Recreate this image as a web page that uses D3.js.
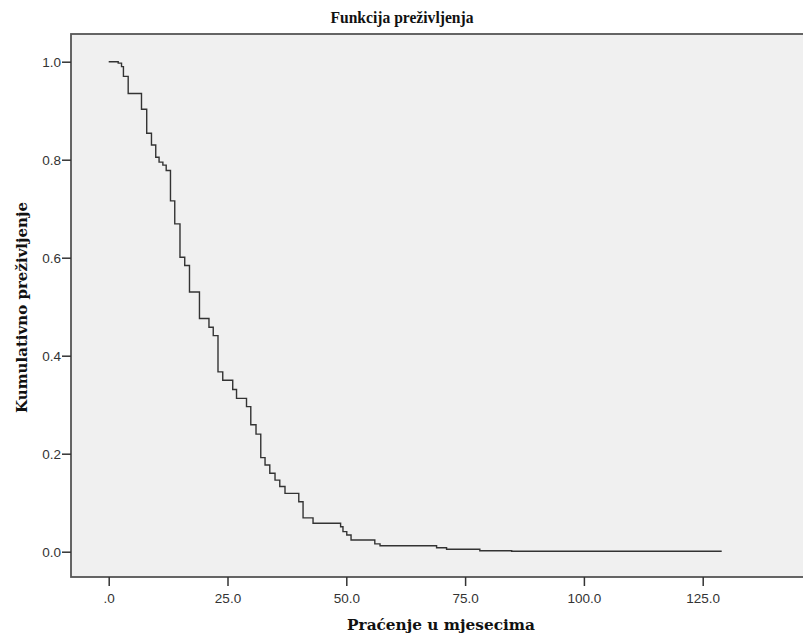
<!DOCTYPE html>
<html>
<head>
<meta charset="utf-8">
<script src="https://cdn.jsdelivr.net/npm/d3@7"></script>
<style>
  body { margin: 0; background: #fff; }
  .tick text { font-family: "Liberation Sans", Arial, sans-serif; font-size: 13.5px; fill: #333; }
  .tick line { stroke: #333; stroke-width: 1.5; }
  .lbl { font-family: "DejaVu Serif", serif; font-weight: bold; fill: #111; }
  .ttl { font-family: "Liberation Serif", "Times New Roman", serif; font-weight: bold; fill: #111; }
</style>
</head>
<body>
<div id="chart"></div>
<script>
// Kaplan-Meier steps (time in months, cumulative survival)
var times    = [0, 2.0, 2.7, 3.1, 4.1, 6.9, 8.0, 9.0, 9.9, 10.6, 11.4, 12.1, 13.0, 13.9, 15.0, 16.0, 17.0,
                19.1, 21.1, 22.0, 23.0, 24.0, 26.1, 26.9, 29.0, 29.9, 31.0, 32.0, 32.9, 33.9, 35.0, 36.0,
                37.1, 40.0, 40.9, 43.0, 48.8, 49.3, 50.1, 51.0, 56.0, 57.1, 69.0, 71.1, 78.1, 84.8, 129];
var survival = [1.0, 0.997, 0.990, 0.970, 0.935, 0.903, 0.854, 0.830, 0.805, 0.795, 0.789, 0.778, 0.716, 0.669, 0.601, 0.584, 0.530,
                0.476, 0.458, 0.441, 0.367, 0.350, 0.331, 0.313, 0.296, 0.259, 0.240, 0.192, 0.177, 0.160, 0.146, 0.133,
                0.119, 0.102, 0.069, 0.058, 0.051, 0.041, 0.034, 0.024, 0.016, 0.012, 0.008, 0.005, 0.002, 0.001, 0.001];
var xTicks = [0, 25, 50, 75, 100, 125];
var yTicks = [0, 0.2, 0.4, 0.6, 0.8, 1.0];

var margin = {top: 34, left: 71},
    width = 760,
    height = 543;

var svg = d3.select("#chart")
    .append("svg")
        .attr("width", 803)
        .attr("height", 636);

var g = svg.append("g")
    .attr("transform", "translate(" + margin.left + "," + margin.top + ")");

var x = d3.scaleLinear()
    .domain([0, 125])
    .range([37.7, 631.7]);

var y = d3.scaleLinear()
    .domain([0, 1])
    .range([517.7, 27.7]);

// plot background
g.append("rect")
    .attr("width", width)
    .attr("height", height)
    .attr("fill", "#f0f0f0")
    .attr("stroke", "#555")
    .attr("stroke-width", 1.8);

g.append("g")
    .attr("transform", "translate(0," + height + ")")
    .call(d3.axisBottom(x)
        .tickValues(xTicks)
        .tickSize(9)
        .tickSizeOuter(0)
        .tickPadding(7)
        .tickFormat(function(d) { return d === 0 ? ".0" : d3.format(".1f")(d); }))
    .call(function(a) { a.select(".domain").remove(); });

g.append("g")
    .call(d3.axisLeft(y)
        .tickValues(yTicks)
        .tickSize(9)
        .tickSizeOuter(0)
        .tickPadding(1)
        .tickFormat(d3.format(".1f")))
    .call(function(a) { a.select(".domain").remove(); });

var data = times.map(function(t, i) { return [t, survival[i]]; });

var line = d3.line()
    .x(function(d) { return x(d[0]); })
    .y(function(d) { return y(d[1]); })
    .curve(d3.curveStepAfter);

g.append("path")
    .datum(data)
    .attr("fill", "none")
    .attr("stroke", "#333")
    .attr("stroke-width", 1.4)
    .attr("d", line);

// shrink or grow a label until it spans the width seen in the picture
function fit(sel, target) {
    var size = parseFloat(sel.style("font-size"));
    var w = sel.node().getComputedTextLength();
    sel.style("font-size", (size * target / w) + "px");
}

// title is a condensed serif: taller glyphs squeezed to the same width
svg.append("text")
    .attr("class", "ttl")
    .attr("x", 402)
    .attr("y", 23)
    .attr("text-anchor", "middle")
    .attr("textLength", 143)
    .attr("lengthAdjust", "spacingAndGlyphs")
    .style("font-size", "17px")
    .text("Funkcija preživljenja");

svg.append("text")
    .attr("class", "lbl")
    .attr("x", 441)
    .attr("y", 630)
    .attr("text-anchor", "middle")
    .style("font-size", "14px")
    .text("Praćenje u mjesecima")
    .call(fit, 188);

svg.append("text")
    .attr("class", "lbl")
    .attr("transform", "translate(27,307.5) rotate(-90)")
    .attr("text-anchor", "middle")
    .style("font-size", "14px")
    .text("Kumulativno preživljenje")
    .call(fit, 211);
</script>
</body>
</html>
